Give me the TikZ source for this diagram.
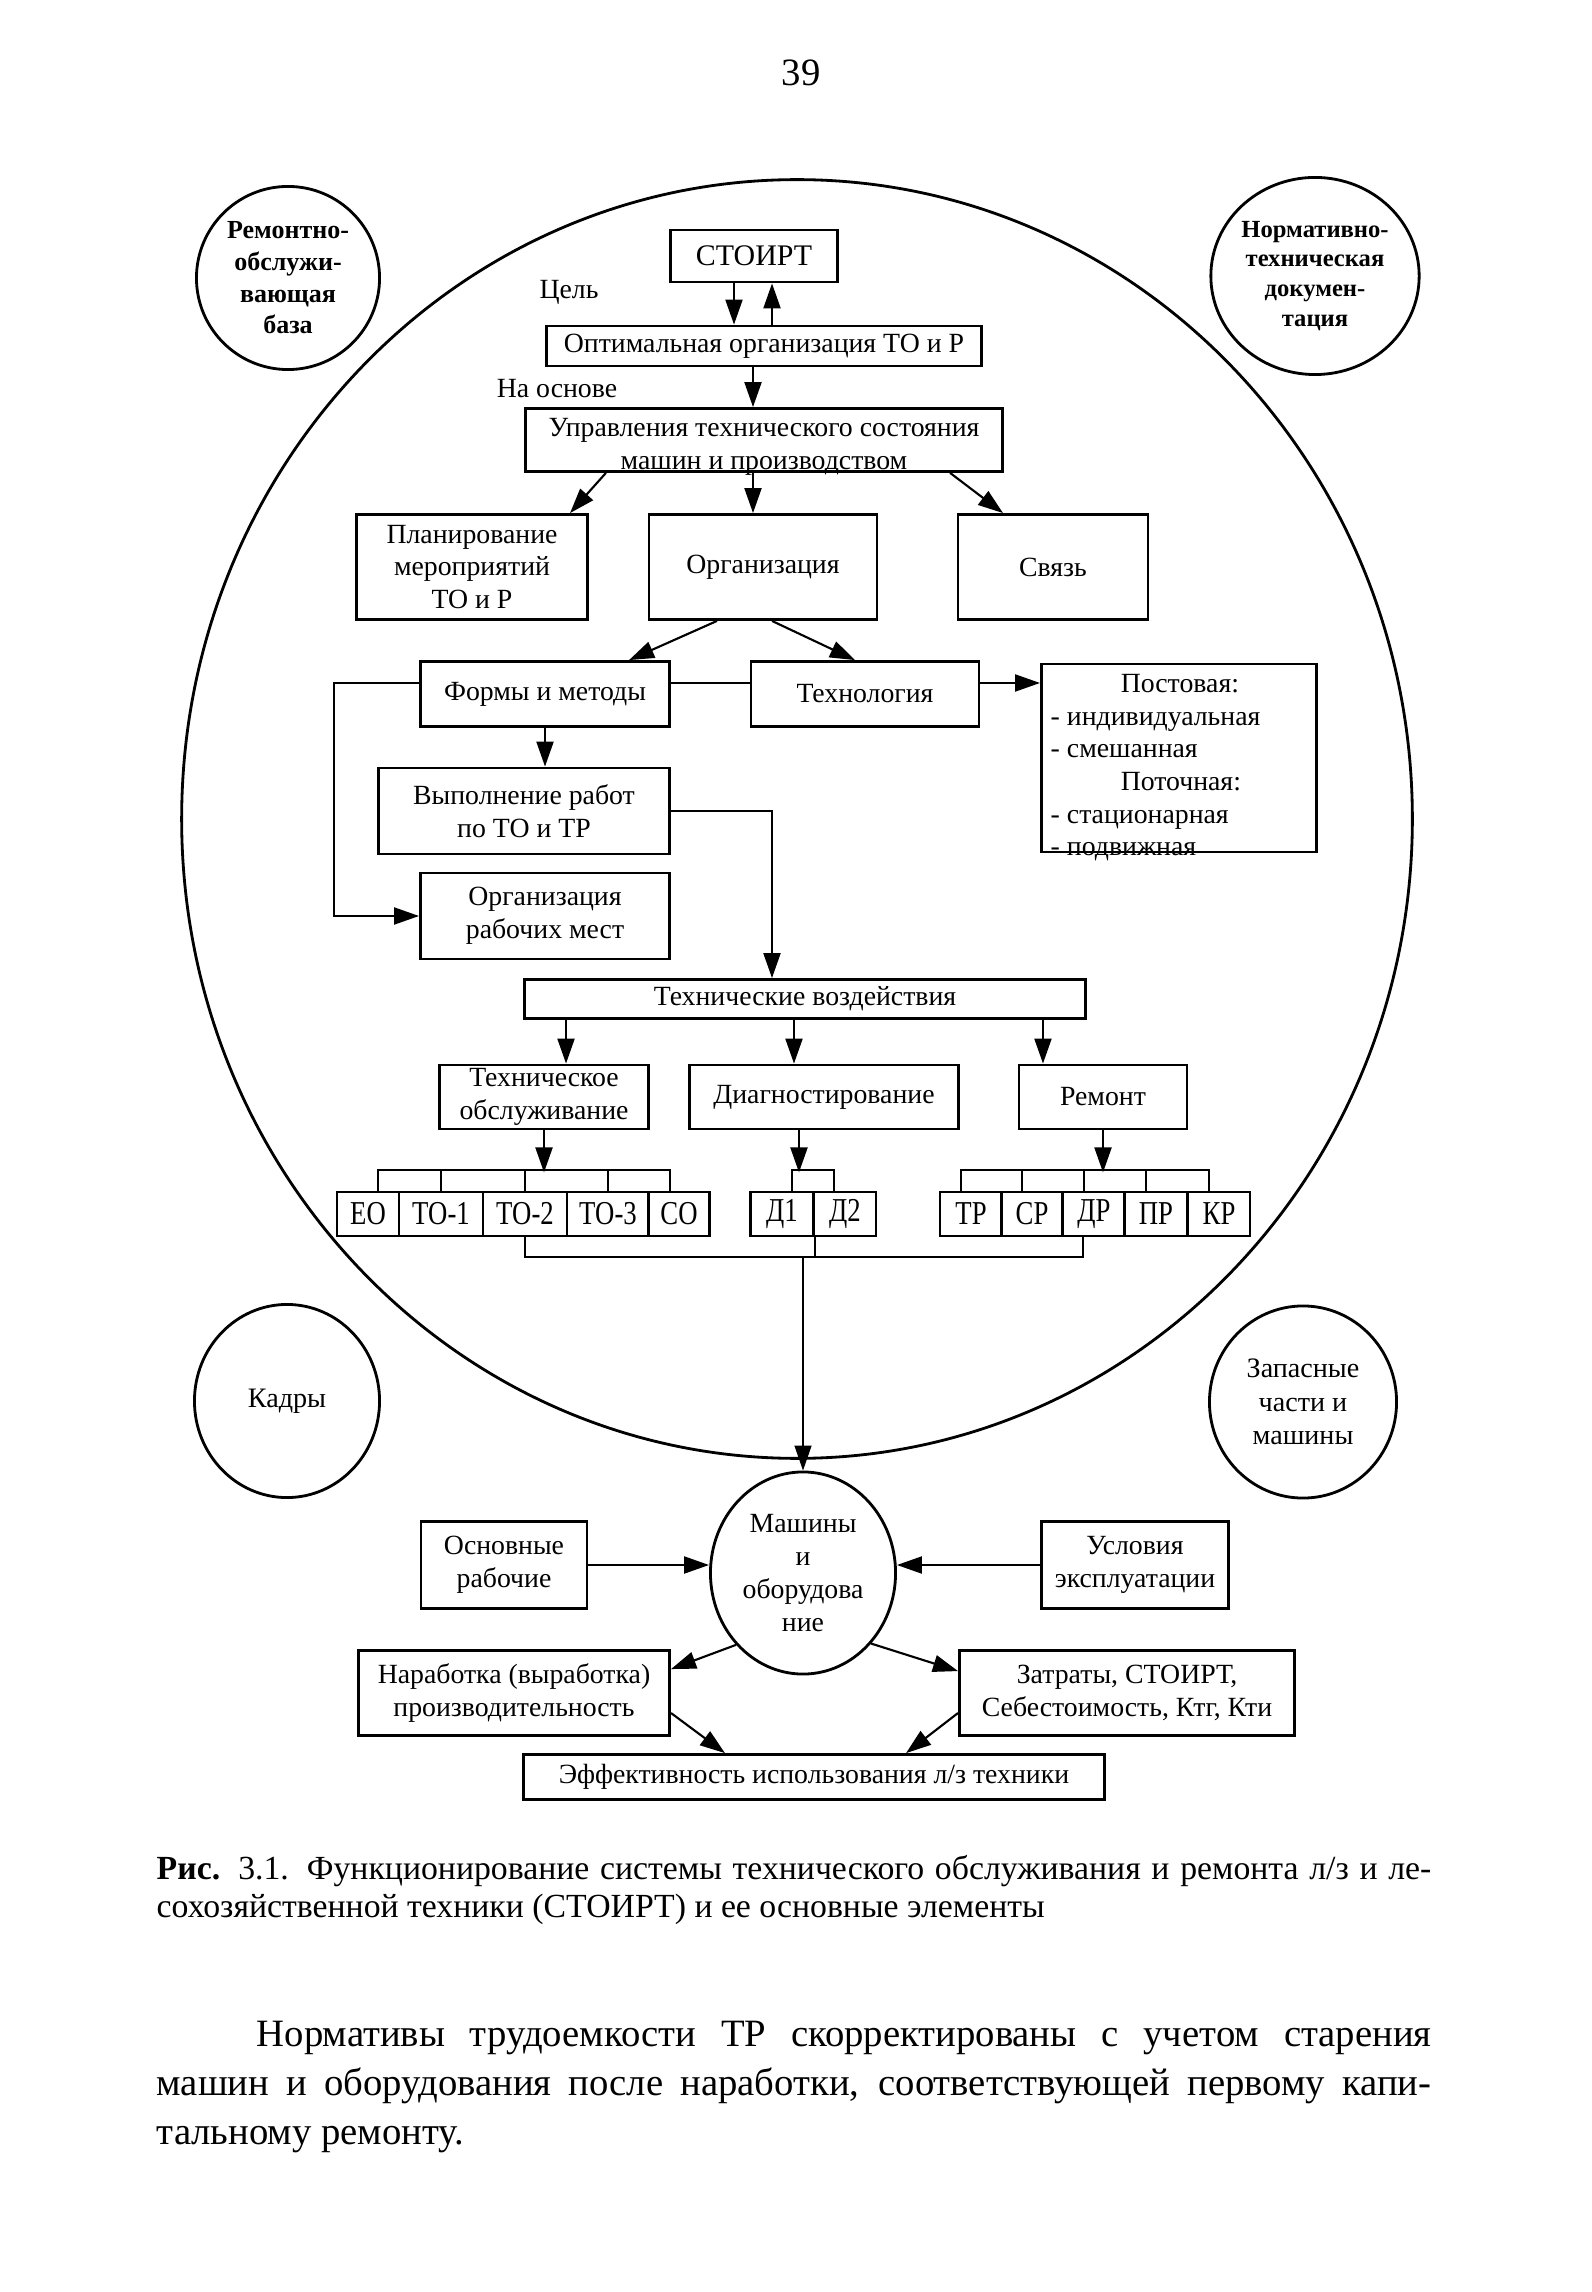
\documentclass[tikz,border=0pt]{standalone}
\usepackage{fontspec}
\setmainfont{Liberation Serif}
\newfontfamily\schmalfont{Liberation Serif}[FakeStretch=0.8]
\usepackage{tikz}
\usetikzlibrary{shapes.geometric, arrows.meta}

\newcommand{\diafont}{\fontsize{7.9}{9.3}\selectfont}
\newcommand{\kreisfont}{\fontsize{7.4}{9}\selectfont}
\newcommand{\kleinfont}{\schmalfont\fontsize{9.5}{10.5}\selectfont}

\begin{document}
\begin{tikzpicture}[x=0.01cm, y=-0.01cm,
  kasten/.style={draw, line width=0.8pt, inner xsep=2pt, inner ysep=0pt, align=center, font=\diafont},
  klein/.style={kasten, inner xsep=0.5pt, minimum height=0.44cm, font=\kleinfont},
  kreis/.style={draw, ellipse, line width=0.8pt, inner sep=0pt, align=center, font=\diafont},
  pfeil/.style={line width=0.6pt, -{Triangle[length=2.5mm, width=1.7mm]}},
  linie/.style={line width=0.6pt}]
\useasboundingbox (0,0) rectangle (1591,2292);

\node[font=\fontsize{11}{13}\selectfont] (seite) at (801,73) {39};

% grosser kreis
\draw[line width=0.8pt] (797,819) ellipse [x radius=6.15cm, y radius=6.39cm];

% kreise aussen
\node[kreis, minimum width=1.83cm, minimum height=1.83cm, font=\kreisfont\bfseries] (rob) at (288,278) {Ремонтно-\\обслужи-\\вающая\\база};
\node[kreis, minimum width=2.06cm, minimum height=1.97cm, font=\fontsize{7}{8.5}\selectfont\bfseries] (ntd) at (1315,276) {Нормативно-\\техническая\\докумен-\\тация};
\node[kreis, minimum width=1.85cm, minimum height=1.93cm, font=\fontsize{8}{9.5}\selectfont] (kadry) at (287,1401) {Кадры};
\node[kreis, minimum width=1.87cm, minimum height=1.92cm, font=\fontsize{8}{9.5}\selectfont] (zapas) at (1303,1402) {Запасные\\части и\\машины};

% oben
\node[kasten, minimum width=1.67cm, minimum height=0.52cm, font=\fontsize{8.5}{10}\selectfont] (stoirt) at (754,256) {СТОИРТ};
\node[font=\diafont] (ziel) at (569,292) {Цель};
\node[kasten, minimum width=4.34cm, minimum height=0.40cm] (opt) at (764,346) {Оптимальная организация ТО и Р};
\node[font=\diafont] (grundlage) at (557,389) {На основе};
\node[kasten, minimum width=4.77cm, minimum height=0.63cm] (upr) at (764,440) {};
\node[inner sep=0pt, align=center, font=\diafont] (uprtext) at ([yshift=-0.07cm]upr.center) {Управления технического состояния\\машин и производством};
\node[kasten, minimum width=2.31cm, minimum height=1.05cm] (plan) at (472,567) {Планирование\\мероприятий\\ТО и Р};
\node[kasten, minimum width=2.28cm, minimum height=1.05cm] (org) at (763,567) {Организация};
\node[kasten, minimum width=1.90cm, minimum height=1.05cm] (svyaz) at (1053,567) {Связь};

% mitte
\node[kasten, minimum width=2.49cm, minimum height=0.65cm] (formy) at (545,694) {Формы и методы};
\node[kasten, minimum width=2.28cm, minimum height=0.65cm] (techn) at (865,694) {Технология};
\node[kasten, minimum width=2.75cm, minimum height=1.88cm] (post) at (1179,758) {};
\node[anchor=north west, inner sep=0pt, align=left, font=\diafont] (posttext) at ([xshift=0.1cm, yshift=-0.11cm]post.north west) {\hspace*{0.7cm}Постовая:\\- индивидуальная\\- смешанная\\\hspace*{0.7cm}Поточная:\\- стационарная\\- подвижная};
\node[kasten, minimum width=2.91cm, minimum height=0.86cm] (vyp) at (524,811) {Выполнение работ\\по ТО и ТР};
\node[kasten, minimum width=2.49cm, minimum height=0.86cm] (orgrm) at (545,916) {Организация\\рабочих мест};
\node[kasten, minimum width=5.60cm, minimum height=0.39cm] (tv) at (805,999) {Технические воздействия};
\node[kasten, minimum width=2.09cm, minimum height=0.64cm] (to) at (544,1097) {Техническое\\обслуживание};
\node[kasten, minimum width=2.69cm, minimum height=0.64cm] (diag) at (824,1097) {Диагностирование};
\node[kasten, minimum width=1.68cm, minimum height=0.64cm] (rem) at (1103,1097) {Ремонт};

% kleine kaesten
\node[klein, minimum width=0.62cm] (eo) at (368,1214) {ЕО};
\node[klein, minimum width=0.84cm] (to1) at (441,1214) {ТО-1};
\node[klein, minimum width=0.84cm] (to2) at (525,1214) {ТО-2};
\node[klein, minimum width=0.82cm] (to3) at (608,1214) {ТО-3};
\node[klein, minimum width=0.61cm] (co) at (679,1214) {СО};
\node[klein, minimum width=0.63cm] (d1) at (782,1214) {Д1};
\node[klein, minimum width=0.62cm] (d2) at (845,1214) {Д2};
\node[klein, minimum width=0.62cm] (tr) at (971,1214) {ТР};
\node[klein, minimum width=0.61cm] (cr) at (1032,1214) {СР};
\node[klein, minimum width=0.62cm] (dr) at (1094,1214) {ДР};
\node[klein, minimum width=0.63cm] (pr) at (1156,1214) {ПР};
\node[klein, minimum width=0.62cm] (kr) at (1219,1214) {КР};

% unten
\node[kreis, minimum width=1.85cm, minimum height=2.02cm] (masch) at (803,1573) {Машины\\и\\оборудова\\ние};
\node[kasten, minimum width=1.66cm, minimum height=0.87cm] (osnr) at (504,1565) {Основные\\рабочие};
\node[kasten, minimum width=1.87cm, minimum height=0.87cm] (usl) at (1135,1565) {Условия\\эксплуатации};
\node[kasten, minimum width=3.11cm, minimum height=0.85cm] (nar) at (514,1693) {Наработка (выработка)\\производительность};
\node[kasten, minimum width=3.35cm, minimum height=0.85cm] (zatr) at (1127,1693) {Затраты, СТОИРТ,\\Себестоимость, Ктг, Кти};
\node[kasten, minimum width=5.81cm, minimum height=0.45cm] (eff) at (814,1777) {Эффективность использования л/з техники};

% pfeile oben
\draw[pfeil] ([xshift=-0.2cm]stoirt.south) -- ([xshift=-0.2cm]stoirt.south |- opt.north);
\draw[pfeil] ([xshift=0.18cm]stoirt.south |- opt.north) -- ([xshift=0.18cm]stoirt.south);
\draw[pfeil] ([xshift=-0.11cm]opt.south) -- ([xshift=-0.11cm]opt.south |- upr.north);
\draw[pfeil] ([xshift=-1.58cm]upr.south) -- ([xshift=0.98cm]plan.north);
\draw[pfeil] ([xshift=-0.1cm]org.north |- upr.south) -- ([xshift=-0.1cm]org.north);
\draw[pfeil] ([xshift=1.86cm]upr.south) -- ([xshift=-0.5cm]svyaz.north);
\draw[pfeil] ([xshift=-0.46cm]org.south) -- ([xshift=0.84cm]formy.north);
\draw[pfeil] ([xshift=0.09cm]org.south) -- ([xshift=-0.1cm]techn.north);

% pfeile mitte
\draw[linie] ([yshift=0.11cm]formy.east) -- ([yshift=0.11cm]techn.west);
\draw[pfeil] ([yshift=0.11cm]techn.east) -- ([yshift=0.11cm]techn.east -| post.west);
\draw[pfeil] ([yshift=0.11cm]formy.west) -- ++(-85,0) |- (orgrm.west);
\draw[pfeil] (formy.south) -- (formy.south |- vyp.north);
\draw[pfeil] (vyp.east) -| ([xshift=-0.33cm]tv.north);
\draw[pfeil] ([xshift=0.22cm]to.north |- tv.south) -- ([xshift=0.22cm]to.north);
\draw[pfeil] ([xshift=-0.3cm]diag.north |- tv.south) -- ([xshift=-0.3cm]diag.north);
\draw[pfeil] ([xshift=-0.6cm]rem.north |- tv.south) -- ([xshift=-0.6cm]rem.north);

% klammern
\draw[pfeil] (to.south) -- ++(0,42);
\draw[linie] ([xshift=0.1cm]eo.north) -- ++(0,-21) -| ([xshift=-0.09cm]co.north);
\draw[linie] (to1.north) -- ++(0,-21);
\draw[linie] (to2.north) -- ++(0,-21);
\draw[linie] (to3.north) -- ++(0,-21);
\draw[pfeil] ([xshift=-0.25cm]diag.south) -- ++(0,42);
\draw[linie] ([xshift=0.1cm]d1.north) -- ++(0,-21) -| ([xshift=-0.11cm]d2.north);
\draw[pfeil] (rem.south) -- ++(0,42);
\draw[linie] ([xshift=-0.1cm]tr.north) -- ++(0,-21) -| ([xshift=-0.1cm]kr.north);
\draw[linie] ([xshift=-0.1cm]cr.north) -- ++(0,-21);
\draw[linie] ([xshift=-0.1cm]dr.north) -- ++(0,-21);
\draw[linie] ([xshift=-0.1cm]pr.north) -- ++(0,-21);

% sammelleitung
\coordinate (sammel) at (803,1257);
\draw[linie] (to2.south) |- (sammel);
\draw[linie] (sammel) -| ([xshift=-0.11cm]dr.south);
\draw[linie] (d1.south east) -- (d1.south east |- sammel);
\draw[pfeil, line width=0.4pt] (sammel) -- (masch.north);

% pfeile unten
\draw[pfeil] (osnr.east) -- (osnr.east -| masch.west);
\draw[pfeil] (usl.west) -- (usl.west -| masch.east);
\draw[pfeil] (masch.-133) -- ([yshift=-0.2cm]nar.north east);
\draw[pfeil] (masch.-46) -- ([yshift=-0.22cm]zatr.north west);
\draw[pfeil] ([yshift=-0.2cm]nar.east) -- ([xshift=-0.89cm]eff.north);
\draw[pfeil] ([yshift=-0.2cm]zatr.west) -- ([xshift=0.92cm]eff.north);

% text
\node[anchor=north west, inner sep=0pt, text width=12.74cm, align=justify, font=\fontsize{9.6}{10.8}\selectfont] (unterschrift) at (156,1855) {\noindent\textbf{Рис.} 3.1. Функционирование системы технического обслуживания и ремонта л/з и ле-\linebreak сохозяйственной техники (СТОИРТ) и ее основные элементы};
\node[anchor=north west, inner sep=0pt, text width=12.74cm, align=justify, font=\fontsize{11}{14}\selectfont] (absatz) at (156,2020) {\noindent\hspace*{1cm}Нормативы трудоемкости ТР скорректированы с учетом старения\linebreak машин и оборудования после наработки, соответствующей первому капи-\linebreak тальному ремонту.};

\end{tikzpicture}
\end{document}
